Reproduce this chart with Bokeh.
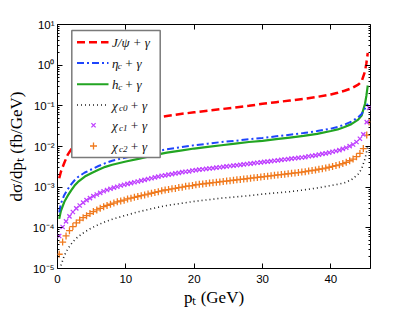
import numpy as np
from bokeh.plotting import figure
from bokeh.models import (Range1d, LinearScale, LogAxis, LinearAxis,
                          FixedTicker, CustomJSTickFormatter)
from bokeh.core.properties import value
from bokeh.embed import file_html
from bokeh.resources import INLINE

# ---------------- data (log10 of dsigma/dpt in fb/GeV) ----------------
line_pt = [0.25, 0.5, 1, 1.5, 2, 2.5, 3, 4, 5, 6, 7, 8, 10, 12, 14, 16, 18, 20,
           22, 24, 26, 28, 30, 32, 34, 36, 38, 40, 41, 42, 43, 44, 44.5, 45,
           45.2, 45.4]

jpsi_log = [-2.78, -2.62, -2.40, -2.20, -2.07, -1.97, -1.89, -1.77, -1.68, -1.61,
            -1.55, -1.50, -1.42, -1.36, -1.30, -1.25, -1.20, -1.16, -1.12, -1.08,
            -1.04, -1.00, -0.95, -0.91, -0.87, -0.83, -0.78, -0.72, -0.68, -0.63,
            -0.57, -0.48, -0.40, -0.15, 0.05, 0.30]

etac_log = [-3.62, -3.40, -3.19, -3.05, -2.93, -2.83, -2.75, -2.64, -2.56, -2.48,
            -2.41, -2.35, -2.27, -2.21, -2.13, -2.07, -2.02, -1.97, -1.93, -1.89,
            -1.86, -1.82, -1.79, -1.75, -1.71, -1.67, -1.62, -1.56, -1.52, -1.46,
            -1.39, -1.28, -1.20, -1.06, -1.00, -0.95]

hc_log = [-3.78, -3.58, -3.36, -3.21, -3.08, -2.96, -2.87, -2.74, -2.65, -2.57,
          -2.50, -2.45, -2.37, -2.30, -2.22, -2.15, -2.10, -2.05, -2.01, -1.97,
          -1.93, -1.89, -1.86, -1.82, -1.78, -1.74, -1.69, -1.62, -1.58, -1.52,
          -1.45, -1.34, -1.24, -0.95, -0.75, -0.50]

chic0_log = [-5.12, -4.93, -4.68, -4.52, -4.40, -4.30, -4.22, -4.10, -4.00, -3.92,
             -3.85, -3.79, -3.69, -3.60, -3.52, -3.45, -3.40, -3.35, -3.31, -3.27,
             -3.24, -3.21, -3.17, -3.14, -3.11, -3.07, -3.02, -2.96, -2.93, -2.89,
             -2.82, -2.68, -2.55, -2.30, -2.15, -1.99]

marker_pt = list(np.arange(0.25, 45.3, 0.5)) + [45.6]

chic1_log = [-4.20, -3.98, -3.84, -3.72, -3.61, -3.52, -3.45, -3.38, -3.32, -3.27,
             -3.22, -3.18, -3.14, -3.10, -3.07, -3.04, -3.01, -2.99, -2.96, -2.94,
             -2.92, -2.90, -2.88, -2.86, -2.84, -2.82, -2.80, -2.78, -2.76, -2.74,
             -2.72, -2.71, -2.69, -2.68, -2.66, -2.65, -2.63, -2.62, -2.61, -2.59,
             -2.58, -2.57, -2.56, -2.55, -2.54, -2.53, -2.52, -2.51, -2.50, -2.49,
             -2.48, -2.47, -2.46, -2.45, -2.44, -2.43, -2.42, -2.41, -2.40, -2.39,
             -2.38, -2.37, -2.36, -2.35, -2.34, -2.33, -2.32, -2.31, -2.30, -2.29,
             -2.28, -2.27, -2.26, -2.24, -2.23, -2.22, -2.20, -2.18, -2.17, -2.15,
             -2.13, -2.11, -2.09, -2.06, -2.03, -1.99, -1.95, -1.89, -1.81, -1.70,
             -1.40, -1.05]

chic2_log = [-4.65, -4.35, -4.20, -4.07, -3.97, -3.88, -3.81, -3.75, -3.70, -3.65,
             -3.60, -3.56, -3.52, -3.48, -3.45, -3.42, -3.39, -3.36, -3.34, -3.32,
             -3.29, -3.27, -3.25, -3.23, -3.21, -3.19, -3.17, -3.15, -3.13, -3.11,
             -3.09, -3.07, -3.06, -3.04, -3.03, -3.01, -3.00, -2.98, -2.97, -2.96,
             -2.94, -2.93, -2.92, -2.91, -2.90, -2.89, -2.88, -2.87, -2.86, -2.85,
             -2.84, -2.83, -2.82, -2.81, -2.80, -2.79, -2.78, -2.77, -2.76, -2.75,
             -2.74, -2.73, -2.72, -2.71, -2.70, -2.69, -2.68, -2.67, -2.66, -2.65,
             -2.64, -2.63, -2.62, -2.60, -2.59, -2.58, -2.56, -2.55, -2.53, -2.51,
             -2.49, -2.47, -2.45, -2.42, -2.39, -2.35, -2.31, -2.25, -2.17, -2.05,
             -1.72, -1.40]

x_ticks = [0, 10, 20, 30, 40]
y_decades = [-5, -4, -3, -2, -1, 0, 1]

legend_base = ["J/ψ + γ", "η", "h", "χ", "χ", "χ"]
legend_sub = ["", "c", "c", "c0", "c1", "c2"]
legend_rest = ["", "+ γ", "+ γ", "+ γ", "+ γ", "+ γ"]

# ---------------- styles ----------------
RED = "#ff0000"
BLUE = "#1f45fc"
GREEN = "#22a522"
BLACK = "#222222"
PURPLE = "#bf40ff"
ORANGE = "#f07a1e"
DOT = "1 3"
DASH = "8 4"
DASHDOT = "7 3 2 3"

def tolin(lst):
    return [10.0 ** v for v in lst]

p = figure(width=407, height=309, x_range=Range1d(0, 45.8),
           y_range=Range1d(1e-5, 10), y_axis_type="log",
           output_backend="svg", toolbar_location=None,
           min_border_left=57, min_border_right=37,
           min_border_top=24, min_border_bottom=38)
p.grid.visible = False
p.outline_line_color = "black"
p.outline_line_width = 1

major_y = [10.0 ** e for e in y_decades]
minor_y = [k * 10.0 ** e for e in y_decades[:-1] for k in range(2, 10)]

fmt = CustomJSTickFormatter(code="""
const e = Math.round(Math.log10(tick));
const sup = {'-':'\u207b','0':'\u2070','1':'\u00b9','2':'\u00b2','3':'\u00b3',
             '4':'\u2074','5':'\u2075','6':'\u2076','7':'\u2077','8':'\u2078','9':'\u2079'};
return '10' + String(e).split('').map(c => sup[c]).join('');
""")

tick_font = "Liberation Sans"
lab_font = "Liberation Serif"

ly = p.left[0]
ly.ticker = FixedTicker(ticks=major_y, minor_ticks=minor_y)
ly.formatter = fmt
ly.axis_label = "dσ/dpₜ (fb/GeV)"
bx = p.below[0]
bx.ticker = FixedTicker(ticks=x_ticks, minor_ticks=[])
bx.axis_label = "pₜ (GeV)"

for ax in (ly, bx):
    ax.axis_line_color = None
    ax.major_tick_in = 5
    ax.major_tick_out = 0
    ax.minor_tick_in = 2
    ax.minor_tick_out = 0
    ax.major_label_text_font = tick_font
    ax.major_label_text_font_size = "11.5px"
    ax.major_label_text_color = "black"
    ax.axis_label_text_font = lab_font
    ax.axis_label_text_font_size = "17px"
    ax.axis_label_text_font_style = "normal"
    ax.axis_label_text_color = "black"
ly.major_label_standoff = 3
ly.axis_label_standoff = 4
bx.major_label_standoff = 6
bx.axis_label_standoff = 2

# mirror axes on the right and top: ticks only (labels invisible)
hidden = dict(major_label_text_font_size="1px", major_label_text_alpha=0.0,
              major_label_standoff=0, axis_line_color=None, major_tick_in=5,
              major_tick_out=0, minor_tick_out=0)
ry = LogAxis(ticker=FixedTicker(ticks=major_y, minor_ticks=minor_y),
             minor_tick_in=2, **hidden)
p.add_layout(ry, "right")
tx = LinearAxis(ticker=FixedTicker(ticks=x_ticks, minor_ticks=[]),
                minor_tick_in=0, **hidden)
p.add_layout(tx, "above")

# ---------------- curves ----------------
p.line(line_pt, tolin(chic0_log), line_color=BLACK, line_width=1.6, line_dash=DOT)
p.scatter(marker_pt, tolin(chic2_log), marker="cross", size=7, line_color=ORANGE, line_width=1.3)
p.scatter(marker_pt, tolin(chic1_log), marker="x", size=6, line_color=PURPLE, line_width=1.3)
p.line(line_pt, tolin(hc_log), line_color=GREEN, line_width=2.2)
p.line(line_pt, tolin(etac_log), line_color=BLUE, line_width=2.0, line_dash=DASHDOT)
p.line(line_pt, tolin(jpsi_log), line_color=RED, line_width=2.5, line_dash=DASH)

# ---------------- legend (frame pixel coordinates, y downward) ----------------
p.extra_x_ranges = {"lx": Range1d(0, 313)}
p.extra_y_ranges = {"ly": Range1d(247, 0)}
p.extra_x_scales = {"lx": LinearScale()}
p.extra_y_scales = {"ly": LinearScale()}
L = dict(x_range_name="lx", y_range_name="ly")

p.quad(left=[14.3], right=[102.7], top=[6], bottom=[134.7], fill_color="white",
       line_color="#7a7a7a", line_width=1.5, **L)

rows = [18, 39, 60.5, 81.5, 102, 123]
x0, x1, xm, xt = 19.5, 51, 36, 54.5
p.line([x0, x1], [rows[0]] * 2, line_color=RED, line_width=2.5, line_dash=DASH, **L)
p.line([x0, x1], [rows[1]] * 2, line_color=BLUE, line_width=2.0, line_dash=DASHDOT, **L)
p.line([x0, x1], [rows[2]] * 2, line_color=GREEN, line_width=2.2, **L)
p.line([x0, x1], [rows[3]] * 2, line_color=BLACK, line_width=1.6, line_dash=DOT, **L)
p.scatter([xm], [rows[4]], marker="x", size=6, line_color=PURPLE, line_width=1.3, **L)
p.scatter([xm], [rows[5]], marker="cross", size=7, line_color=ORANGE, line_width=1.3, **L)

sub_x = [0, 60.2, 60.8, 61.5, 61.5, 61.5]
rest_x = [0, 67, 67, 72.5, 72.5, 72.5]
txt_style = dict(text_font=value(lab_font), text_font_style="italic",
                 text_color="#111111", text_baseline="middle", text_align="left")
p.text([xt] * 6, rows, text=legend_base, text_font_size="13px", **txt_style, **L)
p.text(sub_x[1:], [r + 3 for r in rows[1:]], text=legend_sub[1:], text_font_size="9px",
       **txt_style, **L)
p.text(rest_x[1:], rows[1:], text=legend_rest[1:], text_font_size="13px", **txt_style, **L)

with open("out.html", "w", encoding="utf-8") as f:
    f.write(file_html(p, INLINE))
